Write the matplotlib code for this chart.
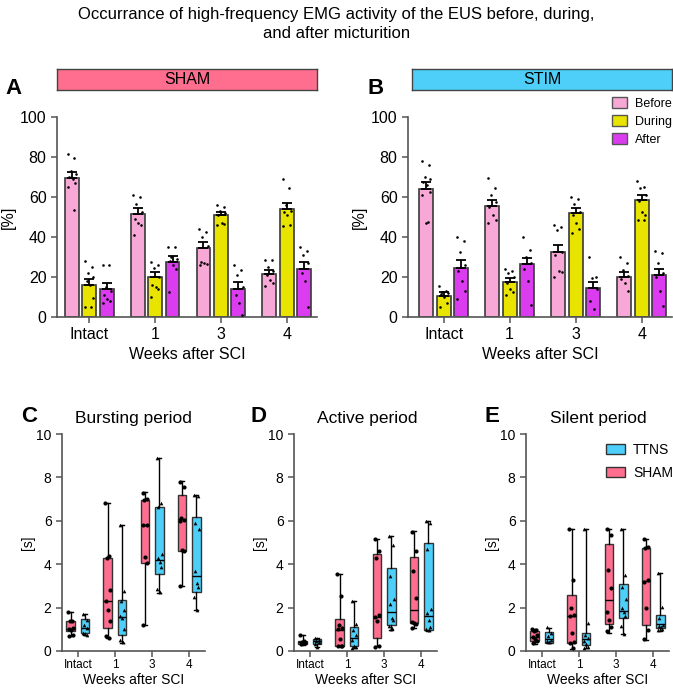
import numpy as np
import matplotlib
matplotlib.use("Agg")
import matplotlib.pyplot as plt
from matplotlib.patches import Patch

plt.rcParams["font.family"] = ["Liberation Sans", "DejaVu Sans"]

W, H = 673, 688

weeks = ["Intact", "1", "3", "4"]
phases = ["Before", "During", "After"]
phase_colors = ["#F8A8D6", "#E8E400", "#DC3CF0"]

# panel A (SHAM) / B (STIM): mean, sem and single animals, [phase][week]
sham_mean = [[69.5, 51.5, 34.7, 21.7], [15.8, 20.2, 50.8, 53.8], [14.0, 27.7, 14.0, 24.0]]
sham_sem = [[3.2, 2.8, 2.8, 2.0], [3.3, 2.5, 1.7, 3.2], [3.0, 2.8, 3.5, 3.7]]
sham_pts = [
    [[81.5, 79.5, 73, 71.5, 70, 69, 67, 65, 53.5],
     [61, 60, 56.5, 52.5, 49, 47, 46, 41],
     [44, 42.5, 40, 35.5, 27.5, 27, 26.5, 26],
     [28.5, 28.5, 25, 23, 21, 18.5, 17, 15.5]],
    [[28, 25, 22, 20, 18, 16, 9.5, 5, 5],
     [27.5, 26, 24.5, 20, 16, 15, 14, 10],
     [56, 55, 53, 52, 51, 47, 46.5, 46],
     [69, 64.5, 56, 53, 52.5, 51, 46, 45.5]],
    [[26, 26, 15, 13, 11, 9, 8, 7],
     [35, 35, 30, 29, 28, 26, 24, 12.5],
     [26, 23.5, 21, 15, 11, 7, 1],
     [35, 33, 31, 27, 22, 18, 5]],
]
stim_mean = [[64.2, 55.7, 32.5, 20.0], [10.7, 17.3, 51.8, 58.3], [24.7, 26.3, 14.7, 20.8]]
stim_sem = [[3.3, 3.0, 3.7, 2.3], [1.8, 2.0, 2.5, 2.7], [3.6, 3.4, 2.8, 3.0]]
stim_pts = [
    [[78, 76, 70, 69, 67.5, 66, 62.5, 61, 47.5, 47],
     [69.5, 64.5, 61, 57.5, 55, 51, 48.5, 47],
     [46, 45, 43.5, 32.5, 31, 23, 22.5, 20],
     [30, 27, 23.5, 20.5, 19, 17, 13]],
    [[15.5, 13, 12.5, 12, 11.5, 10, 7, 5],
     [24, 23, 22, 20, 17, 14, 12.5, 11],
     [60, 59, 56.5, 52.5, 51, 47, 44, 42],
     [68, 65, 64.5, 61, 58, 52.5, 51, 48.5, 48.5]],
    [[40, 38, 32.5, 26, 23, 18, 13, 9],
     [40, 33.5, 30, 27, 24, 18, 6],
     [30, 20, 19.5, 14, 8, 4],
     [33, 32, 27, 22, 20, 13, 5.5]],
]

# panels C-E: box stats (min, q1, median, q3, max) and points, per week
burst_sham_box = [(0.68, 0.93, 1.0, 1.39, 1.8), (0.59, 1.05, 2.29, 4.29, 6.8),
                  (1.19, 4.07, 5.79, 6.95, 7.32), (3.0, 4.61, 6.1, 7.18, 7.82)]
burst_ttns_box = [(0.74, 0.85, 1.08, 1.46, 1.7), (0.37, 0.73, 1.58, 2.37, 5.79),
                  (2.69, 3.56, 4.18, 6.64, 8.89), (1.9, 2.72, 3.44, 6.18, 7.21)]
burst_sham_pts = [[1.8, 1.4, 1.4, 1.05, 1.0, 0.95, 0.75, 0.68],
                  [6.8, 4.4, 4.3, 2.8, 2.3, 1.9, 1.4, 0.7, 0.6],
                  [7.3, 7.0, 6.95, 5.8, 5.8, 4.35, 4.05, 1.2],
                  [7.8, 7.55, 6.15, 6.05, 6.0, 4.65, 4.6, 3.0]]
burst_ttns_pts = [[1.7, 1.45, 1.2, 1.05, 0.85, 0.8, 0.75],
                  [5.79, 2.75, 2.3, 1.9, 1.6, 1.5, 1.0, 0.5, 0.4],
                  [8.9, 6.8, 6.65, 4.45, 4.3, 4.1, 3.85, 2.85, 2.7],
                  [7.2, 7.15, 5.9, 5.6, 3.7, 3.15, 2.95, 2.5, 1.9]]

active_sham_box = [(0.28, 0.33, 0.4, 0.48, 0.75), (0.22, 0.22, 0.96, 1.47, 3.53),
                   (0.22, 0.59, 1.58, 4.49, 5.15), (1.04, 1.27, 1.89, 4.33, 5.53)]
active_ttns_box = [(0.2, 0.3, 0.45, 0.55, 0.6), (0.12, 0.23, 0.62, 1.11, 2.29),
                   (0.98, 1.19, 1.81, 3.84, 5.29), (0.93, 0.99, 1.59, 4.98, 6.0)]
active_sham_pts = [[0.75, 0.45, 0.4, 0.35, 0.3],
                   [3.55, 2.55, 1.2, 1.05, 1.0, 0.55, 0.25, 0.25, 0.25],
                   [5.15, 4.6, 4.3, 1.65, 1.55, 1.4, 0.25, 0.2],
                   [5.5, 4.6, 3.7, 2.45, 1.35, 1.3, 1.25, 1.05]]
active_ttns_pts = [[0.6, 0.5, 0.45, 0.4, 0.3, 0.2],
                   [2.3, 1.25, 0.95, 0.75, 0.5, 0.25, 0.2, 0.15],
                   [5.3, 4.9, 3.45, 2.4, 2.15, 1.5, 1.45, 1.15, 1.05, 1.0],
                   [6.0, 5.9, 4.7, 1.95, 1.75, 1.45, 1.1, 1.0, 0.95]]

silent_sham_box = [(0.31, 0.46, 0.65, 0.9, 1.02), (0.08, 0.36, 1.63, 2.58, 5.6),
                   (0.85, 1.24, 2.35, 4.94, 5.6), (0.51, 1.22, 3.22, 4.75, 5.15)]
silent_ttns_box = [(0.36, 0.37, 0.55, 0.87, 1.08), (0.12, 0.26, 0.54, 0.82, 5.6),
                   (0.77, 1.53, 1.86, 3.1, 5.6), (0.93, 1.08, 1.24, 1.64, 3.58)]
silent_sham_pts = [[1.0, 0.95, 0.9, 0.75, 0.65, 0.55, 0.45, 0.35],
                   [5.6, 3.25, 2.0, 1.65, 1.6, 0.85, 0.4, 0.35, 0.15],
                   [5.6, 5.35, 3.75, 2.9, 1.8, 1.45, 1.1, 0.9],
                   [5.15, 4.8, 4.75, 3.25, 3.2, 2.0, 0.95, 0.55]]
silent_ttns_pts = [[1.1, 0.85, 0.7, 0.5, 0.45, 0.4],
                   [5.6, 1.3, 0.75, 0.6, 0.45, 0.3, 0.2, 0.15],
                   [5.6, 3.5, 2.95, 2.4, 2.0, 1.8, 1.6, 1.15, 0.8],
                   [3.6, 2.05, 1.5, 1.2, 1.15, 1.1, 1.0, 0.95]]

SHAM_COL = "#FF6E8E"
TTNS_COL = "#4DCFFA"
SPINE = "#555555"
jitter = [-0.55, 0.35, -0.15, 0.55, -0.35, 0.1, 0.45, -0.5, 0.25, -0.05]


def fx(x):
    return x / W


def fy(y):
    return 1 - y / H


def style_axes(ax):
    for s in ("top", "right"):
        ax.spines[s].set_visible(False)
    for s in ("left", "bottom"):
        ax.spines[s].set_color(SPINE)
        ax.spines[s].set_linewidth(1.2)
    ax.tick_params(colors="black", width=1.1, length=4, direction="out")
    ax.tick_params(axis="both", color=SPINE)


def bar_panel(rect, means, sems, pts, xlim):
    ax = fig.add_axes(rect)
    x = np.arange(len(weeks))
    bw, off = 0.21, 0.265
    for i in range(3):
        xs = x + (i - 1) * off
        ax.bar(xs, means[i], width=bw, color=phase_colors[i], edgecolor="#3a3a3a",
               linewidth=1.2, zorder=2, label=phases[i])
        ax.errorbar(xs, means[i], yerr=[np.zeros(4), sems[i]], fmt="none",
                    ecolor="black", elinewidth=1.3, capsize=3.5, capthick=1.3, zorder=3)
        for j in range(4):
            vals = pts[i][j]
            jx = [xs[j] + jitter[k % len(jitter)] * bw * 0.55 for k in range(len(vals))]
            ax.scatter(jx, vals, s=3.5, color="black", zorder=4, linewidths=0)
    ax.set_xlim(*xlim)
    ax.set_ylim(0, 100)
    ax.set_yticks(range(0, 101, 20))
    ax.set_xticks(x)
    ax.set_xticklabels(weeks)
    ax.tick_params(labelsize=11.5)
    ax.set_ylabel("[%]", fontsize=11.5, labelpad=3)
    ax.set_xlabel("Weeks after SCI", fontsize=11.5, labelpad=3)
    style_axes(ax)
    return ax


def banner(rect, text, color):
    b = fig.add_axes(rect)
    b.set_facecolor(color)
    b.set_xticks([])
    b.set_yticks([])
    for s in b.spines.values():
        s.set_color("#444444")
        s.set_linewidth(1.0)
    b.text(0.5, 0.5, text, ha="center", va="center", fontsize=11.5, transform=b.transAxes)


def box_panel(rect, sham_box, ttns_box, sham_pts, ttns_pts):
    ax = fig.add_axes(rect)
    x = np.arange(len(weeks))
    bw, off = 0.24, 0.19
    for stats_list, pts, col, sign, mk, ms in ((sham_box, sham_pts, SHAM_COL, -1, "o", 9),
                                               (ttns_box, ttns_pts, TTNS_COL, 1, "^", 7)):
        stats = [dict(whislo=s[0], q1=s[1], med=s[2], q3=s[3], whishi=s[4], fliers=[])
                 for s in stats_list]
        pos = x + sign * off
        ax.bxp(stats, positions=pos, widths=bw, patch_artist=True, showfliers=False,
               boxprops=dict(facecolor=col, edgecolor="#333333", linewidth=1.0),
               medianprops=dict(color="black", linewidth=1.0),
               whiskerprops=dict(color="black", linewidth=1.0),
               capprops=dict(color="black", linewidth=1.0), capwidths=0.1)
        for j in range(4):
            vals = pts[j]
            jx = [pos[j] + jitter[k % len(jitter)] * bw * 0.5 for k in range(len(vals))]
            ax.scatter(jx, vals, s=ms, marker=mk, color="black", zorder=4, linewidths=0)
    ax.set_xlim(-0.43, 3.43)
    ax.set_ylim(0, 10)
    ax.set_yticks(range(0, 11, 2))
    ax.set_xticks(x)
    ax.set_xticklabels(weeks)
    ax.tick_params(axis="x", labelsize=8.5, pad=2)
    ax.tick_params(axis="y", labelsize=10)
    ax.set_ylabel("[s]", fontsize=10, labelpad=1)
    ax.set_xlabel("Weeks after SCI", fontsize=10, labelpad=1)
    style_axes(ax)
    return ax


fig = plt.figure(figsize=(W / 100, H / 100), dpi=100)

fig.text(0.5, fy(24), "Occurrance of high-frequency EMG activity of the EUS before, during,\n"
         "and after micturition", ha="center", va="center", fontsize=12, linespacing=1.25)

bar_h = 200 / H
axA = bar_panel([fx(57), fy(317), 260 / W, bar_h], sham_mean, sham_sem, sham_pts, (-0.49, 3.46))
axB = bar_panel([fx(408), fy(317), 264 / W, bar_h], stim_mean, stim_sem, stim_pts, (-0.54, 3.46))
banner([fx(57), fy(90), 260 / W, 21 / H], "SHAM", SHAM_COL)
banner([fx(412), fy(90), 260 / W, 21 / H], "STIM", TTNS_COL)

fig.legend(handles=[Patch(facecolor=c, edgecolor="#555555", label=p)
                    for p, c in zip(phases, phase_colors)],
           loc="upper left", bbox_to_anchor=(fx(612), fy(97)), frameon=False,
           fontsize=9, handlelength=1.2, handleheight=1.0, labelspacing=0.42,
           handletextpad=0.6, borderaxespad=0, borderpad=0)

box_h = 217 / H
box_w = 143 / W
box_panel([fx(62), fy(651), box_w, box_h], burst_sham_box, burst_ttns_box, burst_sham_pts, burst_ttns_pts)
box_panel([fx(294), fy(651), box_w, box_h], active_sham_box, active_ttns_box, active_sham_pts, active_ttns_pts)
box_panel([fx(526), fy(651), box_w, box_h], silent_sham_box, silent_ttns_box, silent_sham_pts, silent_ttns_pts)

fig.legend(handles=[Patch(facecolor=TTNS_COL, edgecolor="#333333", label="TTNS"),
                    Patch(facecolor=SHAM_COL, edgecolor="#333333", label="SHAM")],
           loc="upper left", bbox_to_anchor=(fx(606), fy(443)), frameon=False,
           fontsize=10, handlelength=1.4, handleheight=0.75, labelspacing=0.65,
           handletextpad=0.55, borderaxespad=0, borderpad=0)

for lab, px, py in (("A", 14, 88), ("B", 376, 88), ("C", 29, 416), ("D", 259, 416), ("E", 492, 416)):
    fig.text(fx(px), fy(py), lab, ha="center", va="center", fontsize=16, fontweight="bold")

for t, px in (("Bursting period", 133), ("Active period", 367), ("Silent period", 598)):
    fig.text(fx(px), fy(419), t, ha="center", va="center", fontsize=12.5)

fig.savefig("out.png", dpi=100)
